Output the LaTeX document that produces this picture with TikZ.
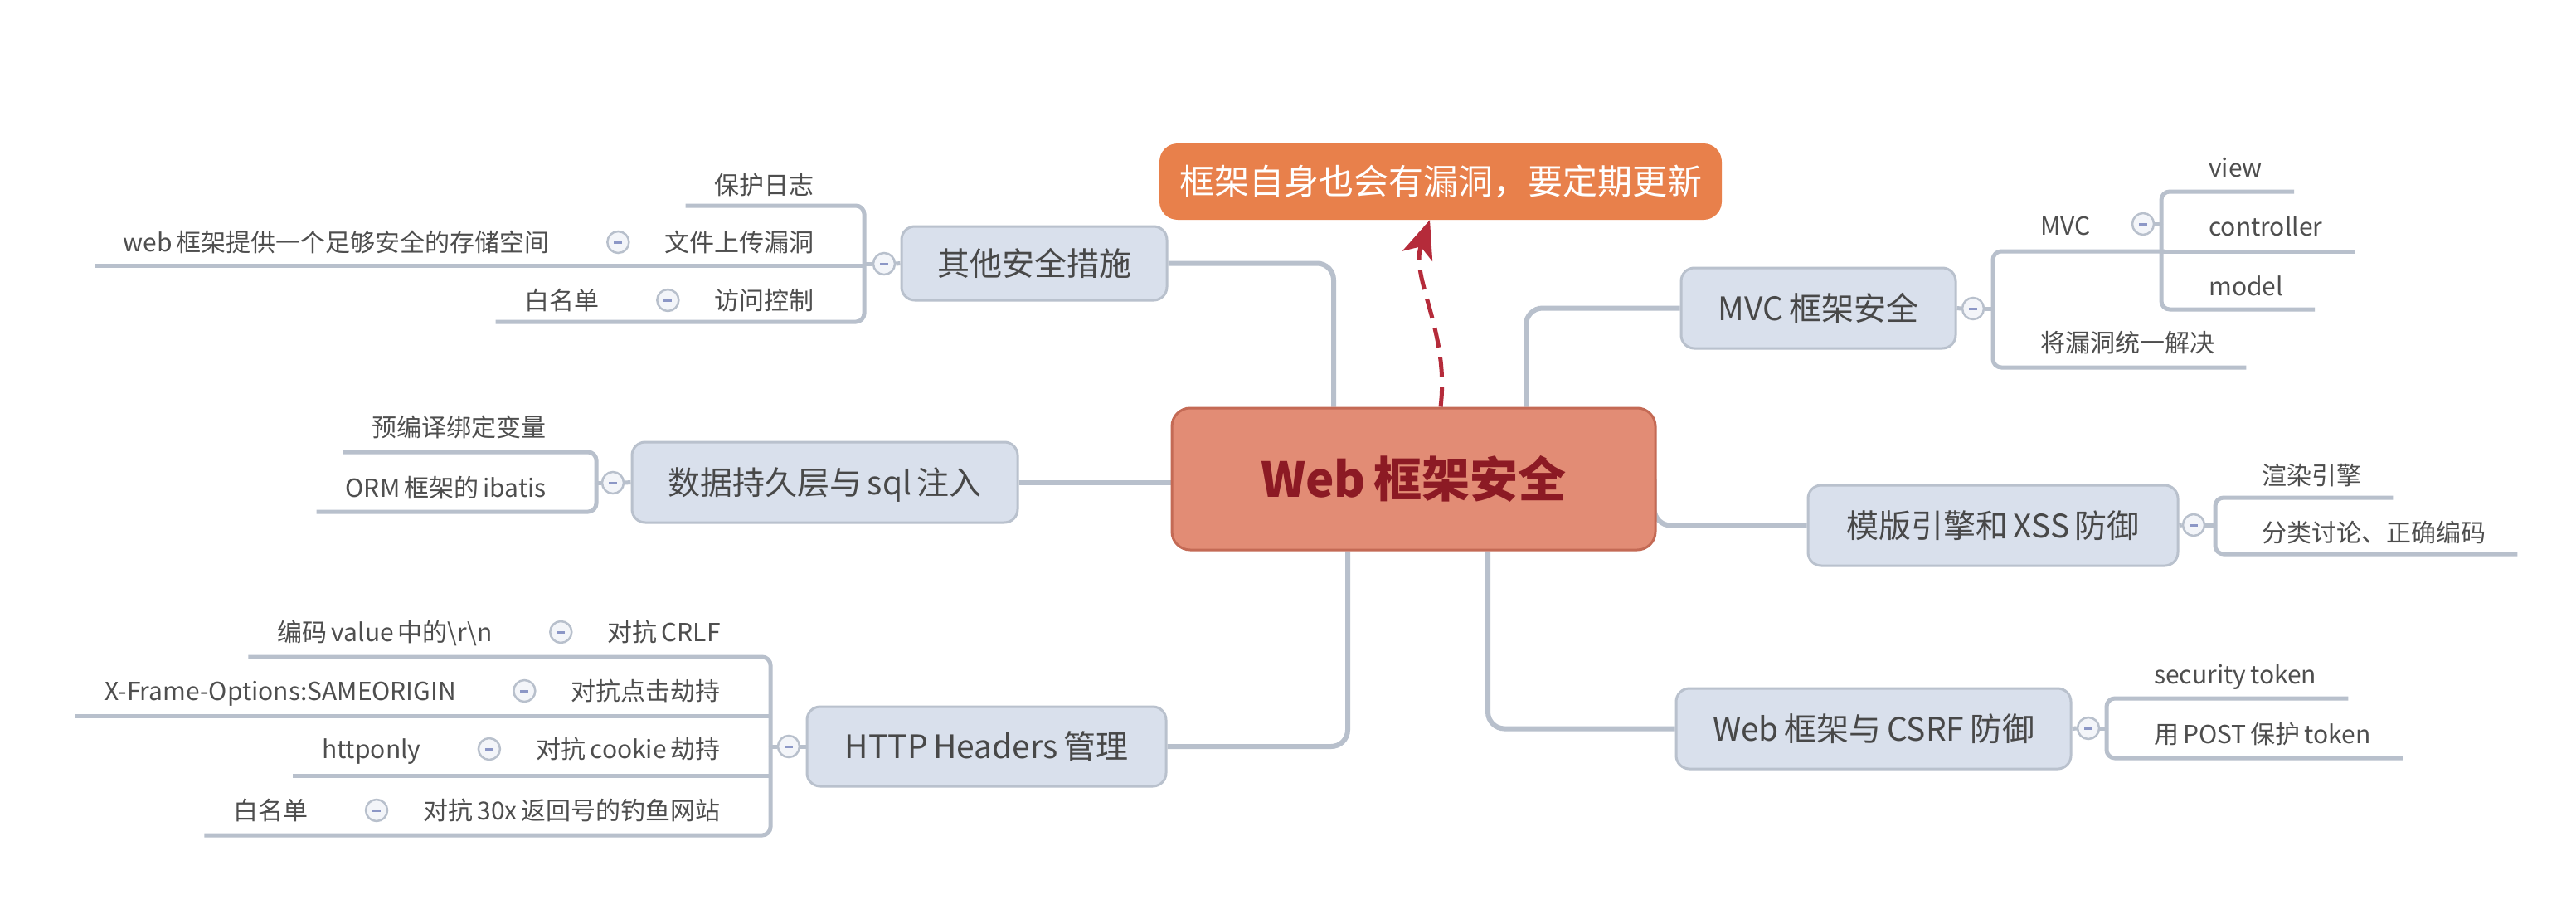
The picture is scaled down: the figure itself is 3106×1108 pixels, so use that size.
\documentclass[tikz,border=0pt]{standalone}
\usepackage{fontspec}
\setmainfont{Noto Sans CJK SC}[WordSpace=0.75]
\usetikzlibrary{positioning,arrows.meta,backgrounds}
\definecolor{linec}{HTML}{B8C0CC}
\definecolor{nodef}{HTML}{D9E0EC}
\definecolor{nodeb}{HTML}{B9C1CD}
\definecolor{brtext}{HTML}{484848}
\definecolor{leaftext}{HTML}{4E4E4E}
\definecolor{circf}{HTML}{F3F5F9}
\definecolor{minusc}{HTML}{8C97C6}
\definecolor{rootf}{HTML}{E28C75}
\definecolor{rootb}{HTML}{C46A55}
\definecolor{roott}{HTML}{8C1A24}
\definecolor{notef}{HTML}{E8804B}
\definecolor{arrowc}{HTML}{B52B3A}
\begin{document}
\begin{tikzpicture}[x=1pt,y=-1pt,
  conn/.style={draw=linec, line width=6pt, rounded corners=20pt},
  sub/.style={draw=linec, line width=5pt, rounded corners=10pt},
  branch/.style={draw=nodeb, fill=nodef, line width=3pt, rounded corners=16pt, text=brtext,
    font=\fontsize{39}{47}\selectfont, inner sep=0pt, text height=29pt, text depth=0pt},
  leaf/.style={inner sep=0pt, text=leaftext, font=\fontsize{30}{36}\selectfont, text height=22.5pt, text depth=0pt},
  collapse/.style={circle, draw=linec, line width=2.5pt, fill=circf, minimum size=26pt, inner sep=0pt,
    path picture={\draw[minusc, line width=3pt] ([xshift=-5pt]path picture bounding box.center) -- ([xshift=5pt]path picture bounding box.center);}},
  rootbox/.style={draw=rootb, fill=rootf, line width=3pt, rounded corners=22pt, text=roott,
    minimum width=583pt, minimum height=171pt, inner sep=0pt, font=\fontsize{58}{70}\selectfont\bfseries,
    text height=43.5pt, text depth=0pt},
  notebox/.style={fill=notef, rounded corners=22pt, text=white, minimum width=678pt, minimum height=92pt,
    inner sep=0pt, font=\fontsize{42}{50}\selectfont, text height=31.5pt, text depth=0pt},
  arrowline/.style={draw=arrowc, line width=5pt, dash pattern=on 24pt off 12pt,
    -{Stealth[length=46pt,width=38pt,inset=12pt]}}
]
\useasboundingbox (0,0) rectangle (3106,1108);

% root and note
\node[rootbox] (root) at (1704.5,577.5) {Web 框架安全};
\node[notebox] (note) at (1737,219) {框架自身也会有漏洞，要定期更新};

% other
\node[branch, minimum width=320pt, minimum height=89pt] (oth) at (1247,317.5) {其他安全措施};
\node[collapse] (coth) at (1066,318) {};
\node[leaf, anchor=east] (o1) at (982,223) {保护日志};
\node[leaf, anchor=east] (o2) at (982,292) {文件上传漏洞};
\node[leaf, anchor=east] (o3) at (982,362) {访问控制};
\node[collapse, left=42pt of o2] (co2) {};
\node[leaf, left=68pt of co2] (o2a) {web 框架提供一个足够安全的存储空间};
\node[collapse, left=42pt of o3] (co3) {};
\node[leaf, left=68pt of co3] (o3a) {白名单};

% db
\node[branch, minimum width=465pt, minimum height=97pt] (db) at (994.5,581.5) {数据持久层与 sql 注入};
\node[collapse] (cdb) at (739,582) {};
\node[leaf, anchor=east] (d1) at (659,515) {预编译绑定变量};
\node[leaf, anchor=east] (d2) at (659,588) {ORM 框架的 ibatis};

% http
\node[branch, minimum width=433pt, minimum height=96pt] (http) at (1189.5,900) {HTTP Headers 管理};
\node[collapse] (chttp) at (951,900) {};
\node[leaf, anchor=east] (h1) at (869,762) {对抗 CRLF};
\node[leaf, anchor=east] (h2) at (869,833) {对抗点击劫持};
\node[leaf, anchor=east] (h3) at (869,903) {对抗 cookie 劫持};
\node[leaf, anchor=east] (h4) at (869,977) {对抗 30x 返回号的钓鱼网站};
\node[collapse, left=42pt of h1] (ch1) {};
\node[leaf, left=68pt of ch1] (h1a) {编码 value 中的\textbackslash r\textbackslash n};
\node[collapse, left=42pt of h2] (ch2) {};
\node[leaf, left=68pt of ch2] (h2a) {X-Frame-Options:SAMEORIGIN};
\node[collapse, left=42pt of h3] (ch3) {};
\node[leaf, left=68pt of ch3] (h3a) {httponly};
\node[collapse, left=42pt of h4] (ch4) {};
\node[leaf, left=68pt of ch4] (h4a) {白名单};

% mvc
\node[branch, minimum width=331pt, minimum height=97pt] (mvc) at (2192.5,371.5) {MVC 框架安全};
\node[collapse] (cmvc) at (2379,372) {};
\node[leaf, anchor=west] (m1) at (2460,272) {MVC};
\node[leaf, anchor=west] (m2) at (2460,413) {将漏洞统一解决};
\node[collapse] (cm1) at (2584,270) {};
\node[leaf, anchor=west] (m1a) at (2663,202) {view};
\node[leaf, anchor=west] (m1b) at (2663,273) {controller};
\node[leaf, anchor=west] (m1c) at (2663,345) {model};

% template
\node[branch, minimum width=446pt, minimum height=97pt] (tpl) at (2403,633.5) {模版引擎和 XSS 防御};
\node[collapse] (ctpl) at (2645,633) {};
\node[leaf, anchor=west] (t1) at (2727,573) {渲染引擎};
\node[leaf, anchor=west] (t2) at (2727,642) {分类讨论、正确编码};

% csrf
\node[branch, minimum width=476pt, minimum height=97pt] (csrf) at (2259,878.5) {Web 框架与 CSRF 防御};
\node[collapse] (ccsrf) at (2518,878) {};
\node[leaf, anchor=west] (s1) at (2597,813) {security token};
\node[leaf, anchor=west] (s2) at (2597,885) {用 POST 保护 token};

% arrow
\draw[arrowline] ([xshift=32.5pt]root.north) .. controls (1748,400) and (1700,335) .. ([xshift=-13pt]note.south);

\begin{pgfonlayer}{background}
\fill[white] (0,0) rectangle (3106,1108);
% main connectors
\draw[conn] (oth.east) -| ([xshift=-96.5pt]root.north);
\draw[conn] (mvc.west) -| ([xshift=135.5pt]root.north);
\draw[conn] (db.east) -- (root.west |- db.east);
\draw[conn] (http.east) -| ([xshift=-79.5pt]root.south);
\draw[conn] (csrf.west) -| ([xshift=89.5pt]root.south);
\draw[conn] (tpl.west) -| ([xshift=-3pt]root.east);
% other subtree
\draw[sub] (oth.west) -- (coth.east);
\draw[sub] (coth.west) -- (1042,318);
\draw[sub] (1042,318) |- ([xshift=-35pt]o1.west |- 0,248);
\draw[sub] (1042,320) -- ([xshift=-35pt]o2a.west |- 0,320);
\draw[sub] (1042,318) |- ([xshift=-35pt]o3a.west |- 0,388);
% db subtree
\draw[sub] (db.west) -- (cdb.east);
\draw[sub] (cdb.west) -- (719,582);
\draw[sub] (719,582) |- ([xshift=-35pt]d1.west |- 0,545);
\draw[sub] (719,582) |- ([xshift=-35pt]d2.west |- 0,617);
% http subtree
\draw[sub] (http.west) -- (chttp.east);
\draw[sub] (chttp.west) -- (929,900);
\draw[sub] (929,900) |- ([xshift=-35pt]h1a.west |- 0,792);
\draw[sub] (929,863) -- ([xshift=-35pt]h2a.west |- 0,863);
\draw[sub] (929,935) -- ([xshift=-35pt]h3a.west |- 0,935);
\draw[sub] (929,900) |- ([xshift=-35pt]h4a.west |- 0,1007);
% mvc subtree
\draw[sub] (mvc.east) -- (cmvc.west);
\draw[sub] (cmvc.east) -- (2403,372);
\draw[sub] (2403,372) |- (2610,303);
\draw[sub] (2403,372) |- ([xshift=38pt]m2.east |- 0,443);
\draw[sub] (cm1.east) -- (2606,270);
\draw[sub] (2606,270) |- ([xshift=38pt]m1a.east |- 0,231);
\draw[sub] (2606,303) -- ([xshift=38pt]m1b.east |- 0,303);
\draw[sub] (2606,270) |- ([xshift=38pt]m1c.east |- 0,373);
% template subtree
\draw[sub] (tpl.east) -- (ctpl.west);
\draw[sub] (ctpl.east) -- (2671,633);
\draw[sub] (2671,633) |- ([xshift=38pt]t1.east |- 0,600);
\draw[sub] (2671,633) |- ([xshift=38pt]t2.east |- 0,668);
% csrf subtree
\draw[sub] (csrf.east) -- (ccsrf.west);
\draw[sub] (ccsrf.east) -- (2540,878);
\draw[sub] (2540,878) |- ([xshift=38pt]s1.east |- 0,842);
\draw[sub] (2540,878) |- ([xshift=38pt]s2.east |- 0,914);
\end{pgfonlayer}
\end{tikzpicture}
\end{document}
